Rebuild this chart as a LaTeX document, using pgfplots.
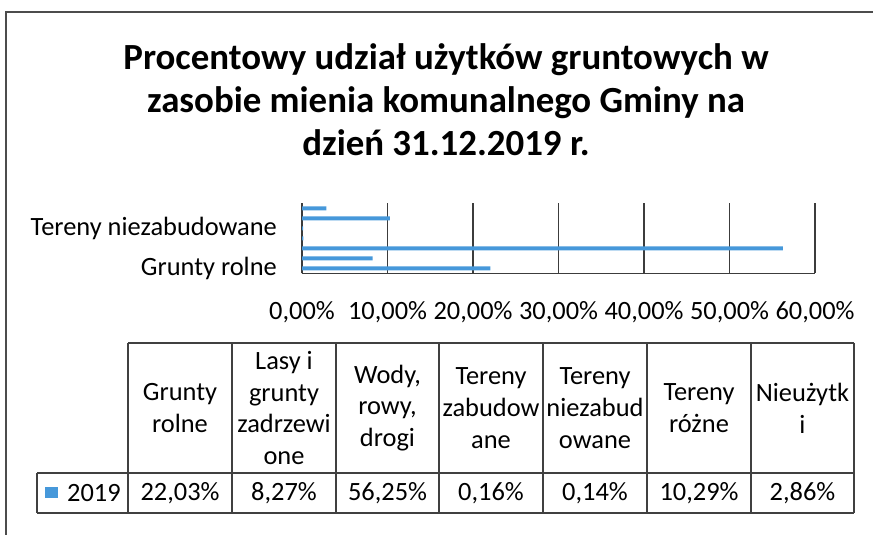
\documentclass[border=0pt]{standalone}
\usepackage{pgfplots}
\pgfplotsset{compat=1.18}
\usepackage{fontspec}
\setmainfont{Carlito}
\definecolor{barblue}{RGB}{70,152,218}
\definecolor{gridc}{RGB}{60,60,60}
\begin{document}
\begin{tikzpicture}
\begin{scope}[x=1bp,y=1bp]
\path[use as bounding box] (0,0) rectangle (873,535);
% outer frame
\draw[line width=1.2bp, black!70] (6,0) -- (6,523) -- (873,523);
% title
\node[align=center, font=\fontsize{37}{43}\selectfont\bfseries] at (446,435)
  {Procentowy udział użytków gruntowych w\\zasobie mienia komunalnego Gminy na\\dzień 31.12.2019 r.};
\end{scope}

\begin{axis}[
  at={(302bp,261.7bp)}, anchor=south west,
  scale only axis, width=513bp, height=70bp,
  xbar, bar width=4bp,
  xmin=0, xmax=60, ymin=-0.5, ymax=6.5,
  xtick={0,10,20,30,40,50,60},
  ytick={0,4},
  yticklabels={Grunty rolne, Tereny niezabudowane},
  xticklabel={\pgfmathprintnumber[fixed,fixed zerofill,precision=2,use comma]{\tick}\%},
  /pgf/number format/assume math mode=true,
  major tick length=0pt,
  axis x line*=bottom, axis y line*=left,
  axis line style={gridc, line width=1.2bp, -},
  xmajorgrids, major grid style={gridc, line width=1.2bp},
  tick label style={font=\fontsize{26.5}{30}\selectfont},
  x tick label style={anchor=north, inner sep=0pt, yshift=-28bp},
  y tick label style={anchor=east, inner sep=0pt, xshift=-25bp},
  clip=false,
]
\addplot[fill=barblue, draw=none] coordinates {
  (22.03,0) (8.27,1) (56.25,2) (0.16,3) (0.14,4) (10.29,5) (2.86,6)
};
\end{axis}

\begin{scope}[x=1bp,y=1bp]
% table lines
\draw[line width=1.1bp, black!75]
  (128,192) -- (854,192)
  (37,62) -- (854,62)
  (37,22) -- (854,22)
  (37,62) -- (37,22);
\foreach \xx in {128,232,336,439,543,647,751,854}
  \draw[line width=1.1bp, black!75] (\xx,192) -- (\xx,22);
\begin{scope}[every node/.style={align=center, font=\fontsize{26.5}{32}\selectfont, inner sep=0pt}]
\node at (180,127) {Grunty\\rolne};
\node at (284,127) {Lasy i\\grunty\\zadrzewi\\one};
\node at (387.5,127) {Wody,\\rowy,\\drogi};
\node at (491,127) {Tereny\\zabudow\\ane};
\node at (595,127) {Tereny\\niezabud\\owane};
\node at (699,127) {Tereny\\różne};
\node at (802.5,127) {Nieużytk\\i};
\node at (180,42) {22,03\%};
\node at (284,42) {8,27\%};
\node at (387.5,42) {56,25\%};
\node at (491,42) {0,16\%};
\node at (595,42) {0,14\%};
\node at (699,42) {10,29\%};
\node at (802.5,42) {2,86\%};
\node[anchor=west] at (67,42) {2019};
\end{scope}
\fill[barblue] (45,37) rectangle (58,48);
\end{scope}
\end{tikzpicture}
\end{document}
